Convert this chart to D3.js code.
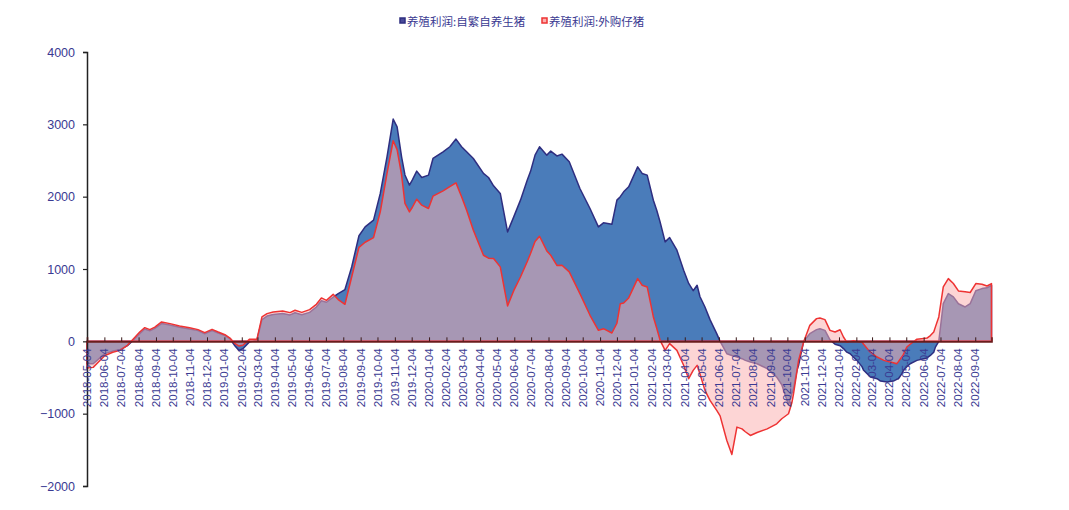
<!DOCTYPE html>
<html><head><meta charset="utf-8">
<script src="https://cdn.jsdelivr.net/npm/d3@7"></script>
<style>body{margin:0;background:#fff}svg{display:block}</style>
</head><body>
<svg id="chart" width="1069" height="510"></svg>
<script>
const seriesNames = ["养殖利润:自繁自养生猪", "养殖利润:外购仔猪"];
const dates = [
"2018-05-04","2018-05-15","2018-05-24","2018-06-05","2018-06-19","2018-07-02","2018-07-15","2018-07-26","2018-08-06","2018-08-15",
"2018-08-24","2018-09-02","2018-09-14","2018-09-29","2018-10-16","2018-11-03","2018-11-18","2018-11-30","2018-12-13","2018-12-24",
"2019-01-05","2019-01-14","2019-01-23","2019-01-30","2019-02-06","2019-02-18","2019-03-03","2019-03-12","2019-03-21","2019-04-01",
"2019-04-18","2019-05-01","2019-05-10","2019-05-22","2019-06-05","2019-06-17","2019-06-26","2019-07-05","2019-07-17","2019-07-26",
"2019-08-07","2019-08-19","2019-09-01","2019-09-12","2019-09-27","2019-10-09","2019-10-21","2019-11-01","2019-11-08","2019-11-16",
"2019-11-22","2019-11-30","2019-12-05","2019-12-13","2019-12-22","2020-01-03","2020-01-11","2020-01-29","2020-02-10","2020-02-21",
"2020-03-02","2020-03-11","2020-03-23","2020-04-10","2020-04-19","2020-04-28","2020-05-10","2020-05-23","2020-06-03","2020-06-15",
"2020-06-27","2020-07-03","2020-07-11","2020-07-19","2020-08-01","2020-08-08","2020-08-19","2020-08-28","2020-09-10","2020-09-29",
"2020-10-17","2020-11-01","2020-11-10","2020-11-25","2020-12-04","2020-12-10","2020-12-16","2020-12-25","2021-01-10","2021-01-18",
"2021-01-27","2021-02-07","2021-02-13","2021-02-19","2021-02-28","2021-03-08","2021-03-21","2021-04-02","2021-04-11","2021-04-19",
"2021-04-26","2021-05-01","2021-05-10","2021-05-19","2021-05-31","2021-06-06","2021-06-18","2021-06-27","2021-07-06","2021-07-15",
"2021-07-21","2021-07-30","2021-08-11","2021-08-29","2021-09-15","2021-09-24","2021-10-06","2021-10-12","2021-10-15","2021-10-21",
"2021-10-24","2021-11-02","2021-11-13","2021-11-25","2021-12-01","2021-12-10","2021-12-19","2021-12-28","2022-01-06","2022-01-12",
"2022-01-18","2022-01-24","2022-01-30","2022-02-05","2022-02-14","2022-02-17","2022-02-26","2022-03-01","2022-03-13","2022-03-19",
"2022-03-25","2022-03-31","2022-04-05","2022-04-11","2022-04-17","2022-04-20","2022-04-26","2022-04-29","2022-05-05","2022-05-11",
"2022-05-23","2022-06-04","2022-06-10","2022-06-16","2022-06-22","2022-06-25","2022-07-01","2022-07-09","2022-07-18","2022-07-27",
"2022-08-05","2022-08-17","2022-08-26","2022-09-05","2022-09-16","2022-09-25","2022-10-03"
];
const selfBred = [
-310,-310,-250,-170,-135,-115,-60,20,106,170,
145,180,245,225,195,172,148,105,150,115,
80,35,-65,-125,-102,-5,15,300,350,370,
385,365,395,368,400,475,560,540,610,660,
716,1029,1460,1582,1675,2044,2551,3073,2966,2551,
2300,2160,2228,2353,2265,2298,2528,2620,2690,2796,
2690,2620,2528,2321,2265,2150,2044,1513,1721,1952,
2228,2350,2574,2690,2574,2630,2563,2588,2482,2113,
1836,1582,1638,1619,1952,2000,2067,2136,2412,2321,
2298,1950,1813,1650,1375,1435,1260,983,800,700,
775,620,475,300,106,0,-171,-195,-217,-240,
-263,-285,-310,-378,-494,-600,-880,-724,-650,-401,
-330,0,106,162,175,152,20,-40,-60,-100,
-150,-171,-220,-263,-350,-401,-470,-494,-517,-549,
-555,-563,-555,-549,-525,-517,-450,-401,-350,-310,
-263,-240,-230,-195,-150,-80,0,521,660,614,
520,475,521,700,729,740,775
];
const purchased = [
-370,-360,-290,-195,-150,-125,-55,37,129,189,
162,196,268,245,212,189,162,120,166,129,
92,46,-32,-65,-55,30,28,337,383,406,
418,397,429,400,438,512,600,567,650,577,
512,890,1300,1370,1435,1790,2321,2773,2650,2300,
1906,1790,1850,1965,1882,1836,2007,2080,2140,2191,
2000,1813,1536,1190,1150,1144,1029,490,700,890,
1100,1214,1380,1453,1250,1190,1050,1052,960,660,
360,152,175,115,250,521,530,600,867,775,
752,337,180,14,-125,-32,-125,-330,-516,-401,
-332,-447,-678,-817,-955,-1030,-1370,-1564,-1186,-1210,
-1250,-1301,-1260,-1210,-1140,-1070,-1001,-850,-724,-420,
-263,-10,221,314,323,300,152,129,160,60,
-10,0,10,0,-10,-40,-125,-150,-217,-240,
-263,-275,-285,-295,-310,-280,-217,-180,-78,-40,
30,40,45,80,129,200,337,752,867,799,
697,686,675,799,790,765,799
];
const yTicks = [-2000, -1000, 0, 1000, 2000, 3000, 4000];
const axisStart = "2018-05-04", axisEnd = "2022-10-03";

const parse = d3.timeParse("%Y-%m-%d");
const fmt = d3.timeFormat("%Y-%m-%d");
const svg = d3.select("#chart");
const x = d3.scaleTime().domain([parse(axisStart), parse(axisEnd)]).range([87, 991.5]);
const y = d3.scaleLinear().domain([-2000, 4000]).range([486, 52]);

const d1 = dates.map((d, i) => ({date: parse(d), v: selfBred[i]}));
const d2 = dates.map((d, i) => ({date: parse(d), v: purchased[i]}));
const area = d3.area().x(d => x(d.date)).y0(y(0)).y1(d => y(d.v));

svg.append("path").datum(d1).attr("d", area)
  .attr("fill", "#4a7cba").attr("stroke", "#2e2e80").attr("stroke-width", 1.5).attr("stroke-linejoin", "round");
svg.append("path").datum(d2).attr("d", area)
  .attr("fill", "rgb(251,175,175)").attr("fill-opacity", 0.53)
  .attr("stroke", "#ee3333").attr("stroke-width", 1.5).attr("stroke-linejoin", "round");

// y axis
const labelColor = "#3a3a92";
const yAxis = svg.append("g").attr("transform", "translate(87,0)")
  .call(d3.axisLeft(y).tickValues(yTicks).tickFormat(d3.format("d")).tickSize(4).tickPadding(8));
yAxis.select(".domain").attr("stroke", "#222").attr("stroke-width", 1.5);
yAxis.selectAll(".tick line").attr("stroke", "#222").attr("stroke-width", 1.2);
yAxis.selectAll(".tick text").attr("fill", labelColor)
  .style("font-family", "'Liberation Sans', Arial, sans-serif").style("font-size", "12.5px");

// x axis at zero
const monthTicks = d3.timeMonth.range(d3.timeMonth.floor(parse(axisStart)), parse(axisEnd))
  .map(d => d3.timeDay.offset(d, 3)).filter(d => d <= parse(axisEnd));
const xAxis = svg.append("g").attr("transform", `translate(0,${y(0)})`)
  .call(d3.axisTop(x).tickValues(monthTicks).tickSize(4).tickFormat(""));
xAxis.select(".domain").attr("stroke", "#6b1c1c").attr("stroke-width", 1.6);
xAxis.selectAll(".tick line").attr("stroke", "#3a1a1a").attr("stroke-width", 1);

svg.append("g").selectAll("text").data(monthTicks).join("text")
  .attr("transform", d => `translate(${x(d)},${y(0) + 7}) rotate(-90)`)
  .attr("text-anchor", "end").attr("dy", "0.35em")
  .attr("fill", labelColor)
  .style("font-family", "'Liberation Sans', Arial, sans-serif").style("font-size", "11.5px")
  .text(d => fmt(d));

// legend
const lg = svg.append("g").style("font-family", "'Noto Sans CJK SC', sans-serif").style("font-size", "11.5px");
const legendItems = [
  {x: 400, fill: "#4a4a9a", stroke: "#2e2e80", name: seriesNames[0]},
  {x: 542, fill: "#fbb0b0", stroke: "#ee3333", name: seriesNames[1]}
];
legendItems.forEach(it => {
  lg.append("rect").attr("x", it.x).attr("y", 18).attr("width", 5).attr("height", 5)
    .attr("fill", it.fill).attr("stroke", it.stroke).attr("stroke-width", 1.5);
  lg.append("text").attr("x", it.x + 7).attr("y", 22).attr("dy", "0.35em")
    .attr("fill", labelColor).text(it.name);
});
</script>
</body></html>
